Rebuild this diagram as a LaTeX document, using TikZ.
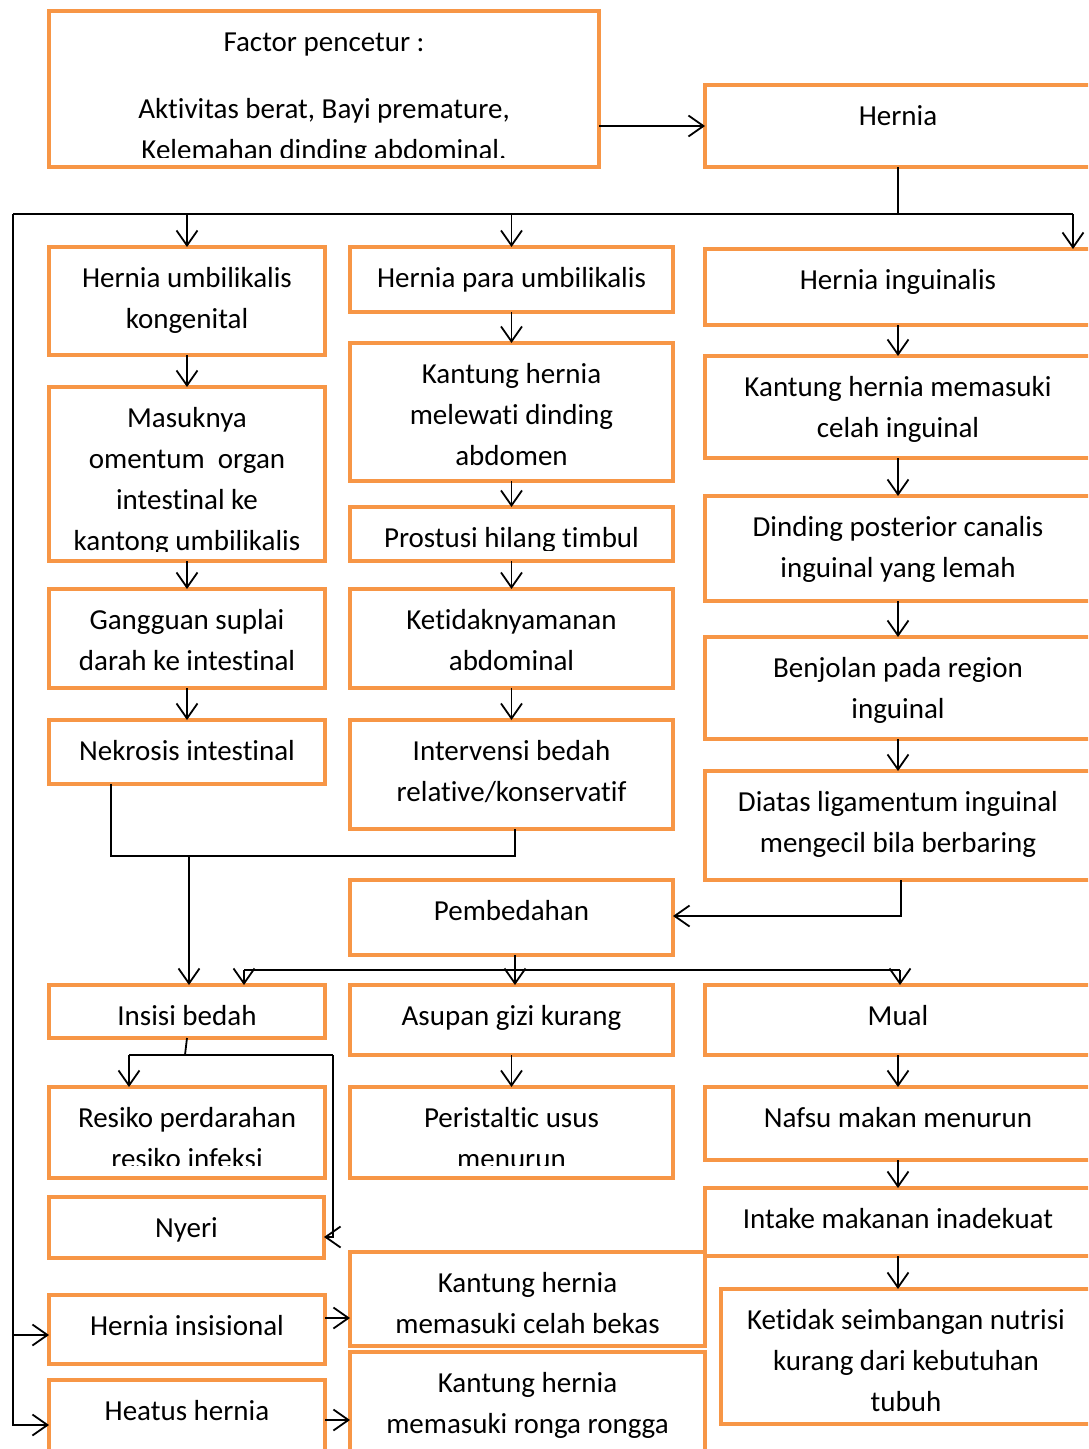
\documentclass[tikz,border=0pt]{standalone}
\usepackage{fontspec}
\setmainfont{Carlito}[Ligatures={NoCommon,NoContextual,NoRare}]
\usetikzlibrary{arrows.meta,calc}
\definecolor{boxorange}{RGB}{247,150,70}
\tikzset{
  obox/.style={draw=boxorange, line width=4.5pt, rectangle, inner sep=0pt, outer sep=0pt},
  txt/.style={anchor=north, align=center, inner sep=0pt, text=black, font=\fontsize{29}{41}\selectfont},
  con/.style={line width=1.8pt, draw=black},
  arr/.style={con, -{Straight Barb[length=15pt,width=21pt]}},
}
% [clip inset], name, x1, y1, x2, y2, text  (pixel coordinates, y downward)
\newcommand\fbx[7][10]{%
  \node[obox, minimum width={(#5-#3)*1pt}, minimum height={(#6-#4)*1pt}] (#2) at ({(#3+#5)/2},{(#4+#6)/2}) {};
  \begin{scope}
    \clip (#3,#4) rectangle (#5,{#6-#1});
    \node[txt] (#2-t) at ($(#2.north)+(0,11.3)$) {\strut #7};
  \end{scope}}
\begin{document}
\begin{tikzpicture}[x=1pt,y=-1pt]
\useasboundingbox (0,0) rectangle (1088,1449);
\clip (0,0) rectangle (1088,1449);
\fill[white] (0,0) rectangle (1088,1449);

\fbx{fac}{49}{11}{599}{167}{Factor pencetur :\\[26pt]Aktivitas berat, Bayi premature,\\Kelemahan dinding abdominal.}
\fbx{her}{705}{85}{1091}{167}{Hernia}
\fbx{umb}{49}{247}{325}{355}{Hernia umbilikalis\\kongenital}
\fbx{para}{350}{247}{673}{312}{Hernia para umbilikalis}
\fbx{ing}{705}{249}{1091}{325}{Hernia inguinalis}
\fbx{mas}{49}{387}{325}{561}{Masuknya\\omentum~ organ\\intestinal ke\\kantong umbilikalis}
\fbx{kan}{350}{343}{673}{481}{Kantung hernia\\melewati dinding\\abdomen}
\fbx{kmi}{705}{356}{1091}{458}{Kantung hernia memasuki\\celah inguinal}
\fbx[11]{pro}{350}{507}{673}{561}{Prostusi hilang timbul}
\fbx{gan}{49}{589}{325}{688}{Gangguan suplai\\darah ke intestinal}
\fbx{ket}{350}{589}{673}{688}{Ketidaknyamanan\\abdominal}
\fbx{din}{705}{496}{1091}{601}{Dinding posterior canalis\\inguinal yang lemah}
\fbx{ben}{705}{637}{1091}{739}{Benjolan pada region\\inguinal}
\fbx{dia}{705}{771}{1091}{880}{Diatas ligamentum inguinal\\mengecil bila berbaring}
\fbx{nek}{49}{720}{325}{784}{Nekrosis intestinal}
\fbx{int}{350}{720}{673}{829}{Intervensi bedah\\relative/konservatif}
\fbx{pem}{350}{880}{673}{955}{Pembedahan}
\fbx{ins}{49}{985}{325}{1038}{Insisi bedah}
\fbx{asu}{350}{985}{673}{1055}{Asupan gizi kurang}
\fbx{mua}{705}{985}{1091}{1055}{Mual}
\fbx[13]{res}{49}{1087}{325}{1178}{Resiko perdarahan\\resiko infeksi}
\fbx[13]{per}{350}{1087}{673}{1178}{Peristaltic usus\\menurun}
\fbx{naf}{705}{1087}{1091}{1160}{Nafsu makan menurun}
\fbx{itk}{705}{1188}{1091}{1256}{Intake makanan inadekuat}
\fbx{kse}{721}{1289}{1091}{1424}{Ketidak seimbangan nutrisi\\kurang dari kebutuhan\\tubuh}
\fbx{nye}{49}{1197}{324}{1258}{Nyeri}
\fbx{kcb}{350}{1252}{705}{1346}{Kantung hernia\\memasuki celah bekas}
\fbx{kcr}{350}{1352}{705}{1470}{Kantung hernia\\memasuki ronga rongga}
\fbx{hin}{49}{1295}{325}{1364}{Hernia insisional}
\fbx{hea}{49}{1380}{325}{1470}{Heatus hernia}

% connectors
\draw[arr] (fac.east |- her.west) -- (her.west);
\coordinate (L0) at (13,214);
\coordinate (R0) at (1073,214);
\draw[con] (her.south) -- (her.south |- L0);
\draw[con] (L0) -- (R0);
\draw[arr] (umb.north |- L0) -- (umb.north);
\draw[arr] (para.north |- L0) -- (para.north);
\draw[arr] (R0) -- (ing.north -| R0);
\draw[arr] (umb.south) -- (mas.north);
\draw[arr] (para.south) -- (kan.north);
\draw[arr] (ing.south) -- (kmi.north);
\draw[arr] (mas.south) -- (gan.north);
\draw[arr] (kan.south) -- (pro.north);
\draw[arr] (kmi.south) -- (din.north);
\draw[arr] (pro.south) -- (ket.north);
\draw[arr] (din.south) -- (ben.north);
\draw[arr] (gan.south) -- (nek.north);
\draw[arr] (ket.south) -- (int.north);
\draw[arr] (ben.south) -- (dia.north);

\coordinate (m1) at (111,856);
\coordinate (m2) at (515,856);
\coordinate (m3) at (189,856);
\draw[con] (nek.south -| m1) -- (m1) -- (m2) -- (int.south -| m2);
\draw[arr] (m3) -- (ins.north -| m3);

\coordinate (p1) at (901,916);
\draw[arr] (dia.south -| p1) -- (p1) -- (pem.east |- p1);

\coordinate (s0) at (515,970);
\coordinate (sL) at (244,970);
\coordinate (sR) at (900,970);
\draw[con] (pem.south -| s0) -- (s0);
\draw[con] (sL) -- (sR);
\draw[arr] (sL) -- (ins.north -| sL);
\draw[arr] (s0) -- (asu.north -| s0);
\draw[arr] (sR) -- (mua.north -| sR);

\coordinate (i0) at (185,1055);
\coordinate (iL) at (129,1055);
\coordinate (iR) at (333,1055);
\coordinate (iN) at (333,1237);
\draw[con] (ins.south) -- (i0);
\draw[con] (iL) -- (iR);
\draw[arr] (iL) -- (res.north -| iL);
\draw[arr] (iR) -- (iN) -- (nye.east |- iN);

\draw[arr] (asu.south) -- (per.north);
\draw[arr] (mua.south) -- (naf.north);
\draw[arr] (naf.south) -- (itk.north);
\draw[arr] (itk.south) -- (kse.north -| itk.south);

\coordinate (L1) at (13,1335);
\coordinate (L2) at (13,1425);
\draw[arr] (L0) -- (L2) -- (hea.west |- L2);
\draw[arr] (L1) -- (hin.west |- L1);
\coordinate (h1) at (0,1318);
\coordinate (h2) at (0,1420);
\draw[arr] (hin.east |- h1) -- (kcb.west |- h1);
\draw[arr] (hea.east |- h2) -- (kcr.west |- h2);
\end{tikzpicture}
\end{document}
